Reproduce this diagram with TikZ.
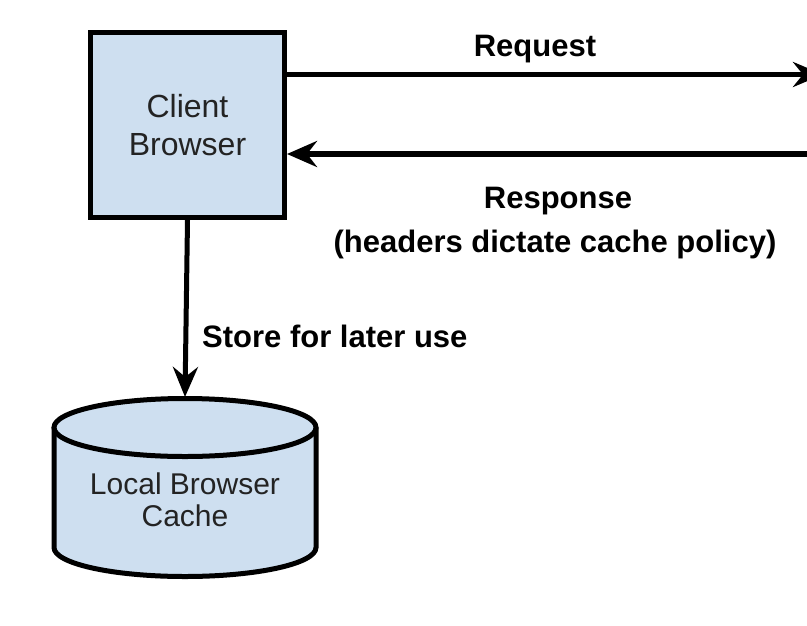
\documentclass[tikz,border=0pt]{standalone}
\usepackage{fontspec}
\setmainfont{Liberation Sans}
\usetikzlibrary{arrows.meta}
\definecolor{boxblue}{RGB}{206,223,240}
\definecolor{txtgray}{RGB}{35,35,35}
\tikzset{
  boxnode/.style={draw=black, line width=5pt, fill=boxblue, minimum width=194pt, minimum height=185pt, inner sep=0pt, align=center, text=txtgray, font=\fontsize{32}{38}\selectfont},
  lbl/.style={inner sep=0pt, font=\bfseries\fontsize{31}{36}\selectfont, text=black},
  conn/.style={line width=5pt, -{Stealth[length=30pt,width=25pt,inset=10pt]}},
  thickconn/.style={line width=6pt, -{Stealth[length=30pt,width=26pt,inset=10pt]}},
  cyl/.style={draw=black, line width=5pt, fill=boxblue}
}
\begin{document}
\begin{tikzpicture}[x=1pt,y=-1pt]
\useasboundingbox (0,0) rectangle (807,625);
\clip (0,0) rectangle (807,625);
% client box
\node[boxnode] (client) at (187.5,125) {Client\\Browser};
% cylinder
\fill[boxblue] (54,427.5) -- (54,547.5) arc[start angle=180,end angle=0,x radius=131,y radius=29] -- (316,427.5) arc[start angle=0,end angle=-180,x radius=131,y radius=29] -- cycle;
\draw[cyl, fill=none] (54,427.5) -- (54,547.5) arc[start angle=180,end angle=0,x radius=131,y radius=29] -- (316,427.5);
\draw[cyl, fill=none] (185,427.5) ellipse[x radius=131,y radius=29];
\node[inner sep=0pt, align=center, text=txtgray, font=\fontsize{30}{32}\selectfont] (cache) at (185,500) {Local Browser\\Cache};
\coordinate (cachetop) at (185,397);
% connectors
\coordinate (reqend) at (823,74.5);
\coordinate (respstart) at (810,154);
\draw[conn] (client.east |- reqend) -- (reqend);
\draw[thickconn] (respstart) -- (respstart -| client.east);
\draw[conn] (client.south) -- (cachetop);
% labels
\node[lbl, anchor=base] (req) at (535,56) {Request};
\node[lbl, anchor=base] (resp1) at (558,208) {Response};
\node[lbl, anchor=base] (resp2) at (555,252) {(headers dictate cache policy)};
\node[lbl, anchor=base west] (store) at (202,347) {Store for later use};
\end{tikzpicture}
\end{document}
